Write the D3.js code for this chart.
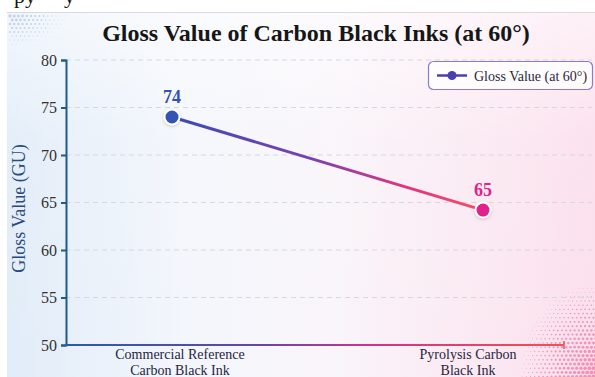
<!DOCTYPE html>
<html><head><meta charset="utf-8">
<script src="https://cdn.jsdelivr.net/npm/d3@7"></script>
<style>html,body{margin:0;padding:0;background:#fff;overflow:hidden}svg{display:block}</style>
</head><body>
<script>
const categories = ["Commercial Reference|Carbon Black Ink", "Pyrolysis Carbon|Black Ink"];
const glossValues = [74, 64.2];
const valueLabels = ["74", "65"];
const yTicks = [50, 55, 60, 65, 70, 75, 80];
const chartTitle = "Gloss Value of Carbon Black Inks (at 60°)";
const yTitle = "Gloss Value (GU)";
const legendLabel = "Gloss Value (at 60°)";

const W = 595, H = 377;
const svg = d3.select("body").append("svg").attr("width", W).attr("height", H);
const defs = svg.append("defs");

// background gradient
const bg = defs.append("linearGradient").attr("id", "bg").attr("x1", "0").attr("x2", "1").attr("y1", "0").attr("y2", "0");
[["0%", "#e1ecf8"], ["30%", "#f3f6fc"], ["55%", "#f9f5fa"], ["80%", "#fbe9f2"], ["100%", "#fbdfec"]]
  .forEach(([o, c]) => bg.append("stop").attr("offset", o).attr("stop-color", c));
const bgv = defs.append("linearGradient").attr("id", "bgv").attr("x1", "0").attr("x2", "0").attr("y1", "0").attr("y2", "1");
[["0%", "#ffffff", 0.55], ["35%", "#ffffff", 0.1], ["100%", "#ffffff", 0]]
  .forEach(([o, c, a]) => bgv.append("stop").attr("offset", o).attr("stop-color", c).attr("stop-opacity", a));

// top strip with cut-off text (as in the reference)
svg.append("text").attr("x", 14).attr("y", 3).attr("font-family", "Liberation Serif").attr("font-size", 22).attr("fill", "#111").text("py");
svg.append("text").attr("x", 64).attr("y", 3).attr("font-family", "Liberation Serif").attr("font-size", 22).attr("fill", "#111").text("y");
svg.append("line").attr("x1", 7).attr("x2", W).attr("y1", 12.5).attr("y2", 12.5).attr("stroke", "#d9d9de").attr("stroke-width", 1);

svg.append("rect").attr("x", 7).attr("y", 13).attr("width", W - 7).attr("height", H - 13).attr("fill", "url(#bg)");
svg.append("rect").attr("x", 7).attr("y", 13).attr("width", W - 7).attr("height", H - 13).attr("fill", "url(#bgv)");

// halftone decorations
const dots = svg.append("g");
for (let i = 0; i < 14; i++) for (let j = 0; j < 8; j++) {
  const cx = 10 + i * 4.2 + (j % 2) * 2.1, cy = 16 + j * 4;
  const f = Math.max(0, 1 - Math.hypot((cx - 8) / 60, (cy - 14) / 32));
  if (f > 0.05) dots.append("circle").attr("cx", cx).attr("cy", cy).attr("r", 1.5 * f + 0.3).attr("fill", "#b9cce6").attr("opacity", 0.8);
}
for (let i = 0; i < 20; i++) for (let j = 0; j < 24; j++) {
  const cx = 520 + i * 4.2 + (j % 2) * 2.1, cy = 280 + j * 4.2;
  const f = Math.max(0, 1 - Math.hypot((W - cx) / 80, (H - cy) / 100));
  if (f > 0.08) dots.append("circle").attr("cx", cx).attr("cy", cy).attr("r", 1.9 * f + 0.2).attr("fill", "#ee79a8").attr("opacity", 0.75);
}

// title
svg.append("text").attr("x", 316).attr("y", 41).attr("text-anchor", "middle")
  .attr("font-family", "Liberation Serif").attr("font-weight", "bold").attr("font-size", 24).attr("fill", "#161616").text(chartTitle);

const plotLeft = 66, plotRight = 564, gridRight = 592;
const y = d3.scaleLinear().domain([50, 80]).range([345, 60]);
const x = d3.scalePoint().domain(categories).range([plotLeft + 106, plotRight - 81]);
const xLab = d3.scalePoint().domain(categories).range([plotLeft + 114, plotRight - 96]);

// gridlines
svg.append("g").selectAll("line").data(yTicks.filter(t => t > 50)).join("line")
  .attr("x1", plotLeft).attr("x2", gridRight).attr("y1", d => y(d)).attr("y2", d => y(d))
  .attr("stroke", "#d6d8e0").attr("stroke-dasharray", "5,4").attr("stroke-width", 1);

// y axis
const yAxis = svg.append("g").attr("transform", `translate(${plotLeft},0)`)
  .call(d3.axisLeft(y).tickValues(yTicks).tickSize(5).tickPadding(4));
yAxis.select(".domain").attr("stroke", "#1f5a8a").attr("stroke-width", 2);
yAxis.selectAll(".tick line").attr("stroke", "#1f5a8a").attr("stroke-width", 2);
yAxis.selectAll(".tick text").attr("font-family", "Liberation Serif").attr("font-size", 16).attr("fill", "#333");

svg.append("text").attr("transform", `translate(25,${(y(50) + y(80)) / 2 + 6}) rotate(-90)`).attr("text-anchor", "middle")
  .attr("font-family", "Liberation Serif").attr("font-size", 18).attr("fill", "#2b4a80").text(yTitle);

// x axis
const xg = defs.append("linearGradient").attr("id", "xg").attr("gradientUnits", "userSpaceOnUse")
  .attr("x1", plotLeft).attr("x2", plotRight).attr("y1", 0).attr("y2", 0);
[["0%", "#2a5ba8"], ["40%", "#6b44a8"], ["62%", "#d2338c"], ["100%", "#ef5352"]]
  .forEach(([o, c]) => xg.append("stop").attr("offset", o).attr("stop-color", c));
svg.append("line").attr("x1", plotLeft - 1).attr("x2", plotRight).attr("y1", y(50)).attr("y2", y(50))
  .attr("stroke", "url(#xg)").attr("stroke-width", 2);
svg.append("line").attr("x1", plotRight).attr("x2", plotRight).attr("y1", y(50) - 4).attr("y2", y(50) + 4)
  .attr("stroke", "#ef5352").attr("stroke-width", 1.5);

// x labels
const xl = svg.append("g").selectAll("text").data(categories).join("text")
  .attr("x", d => xLab(d)).attr("y", 359).attr("text-anchor", "middle")
  .attr("font-family", "Liberation Serif").attr("font-size", 14).attr("fill", "#25253f");
xl.each(function (d) {
  d.split("|").forEach((s, i) => d3.select(this).append("tspan").attr("x", xLab(d)).attr("dy", i ? 15.5 : 0).text(s));
});

// series line
const pts = categories.map((c, i) => [x(c), y(glossValues[i])]);
const lg = defs.append("linearGradient").attr("id", "lg").attr("gradientUnits", "userSpaceOnUse")
  .attr("x1", pts[0][0]).attr("x2", pts[1][0]).attr("y1", pts[0][1]).attr("y2", pts[1][1]);
[["0%", "#3a4cb2"], ["45%", "#7a41b0"], ["75%", "#e0357f"], ["100%", "#f0506a"]]
  .forEach(([o, c]) => lg.append("stop").attr("offset", o).attr("stop-color", c));
svg.append("path").attr("d", d3.line()(pts)).attr("stroke", "url(#lg)").attr("stroke-width", 3).attr("fill", "none");

const flt = defs.append("filter").attr("id", "sh").attr("x", "-50%").attr("y", "-50%").attr("width", "200%").attr("height", "200%");
flt.append("feDropShadow").attr("dx", 0).attr("dy", 1).attr("stdDeviation", 1.5).attr("flood-color", "#000").attr("flood-opacity", 0.2);

const ptColors = ["#3452b2", "#e0238a"];
svg.append("g").selectAll("circle").data(categories).join("circle")
  .attr("cx", d => x(d)).attr("cy", (d, i) => y(glossValues[i])).attr("r", 7.5)
  .attr("fill", (d, i) => ptColors[i]).attr("stroke", "#fff").attr("stroke-width", 2).attr("filter", "url(#sh)");
svg.append("g").selectAll("text").data(categories).join("text")
  .attr("x", d => x(d)).attr("y", (d, i) => y(glossValues[i]) - 14).attr("text-anchor", "middle")
  .attr("font-family", "Liberation Serif").attr("font-weight", "bold").attr("font-size", 18)
  .attr("fill", (d, i) => ptColors[i]).text((d, i) => valueLabels[i]);

// legend
const leg = svg.append("g");
leg.append("rect").attr("x", 428.5).attr("y", 61.5).attr("width", 164).attr("height", 28).attr("rx", 5)
  .attr("fill", "#ffffff").attr("fill-opacity", 0.8).attr("stroke", "#8a7cc8").attr("stroke-width", 1.2);
leg.append("line").attr("x1", 437).attr("x2", 467).attr("y1", 75.5).attr("y2", 75.5).attr("stroke", "#4a3fae").attr("stroke-width", 2.5);
leg.append("circle").attr("cx", 452).attr("cy", 75.5).attr("r", 4.5).attr("fill", "#4a3fae");
leg.append("text").attr("x", 474).attr("y", 80.5).attr("font-family", "Liberation Serif").attr("font-size", 14).attr("fill", "#2a2a3a").text(legendLabel);
</script>
</body></html>
